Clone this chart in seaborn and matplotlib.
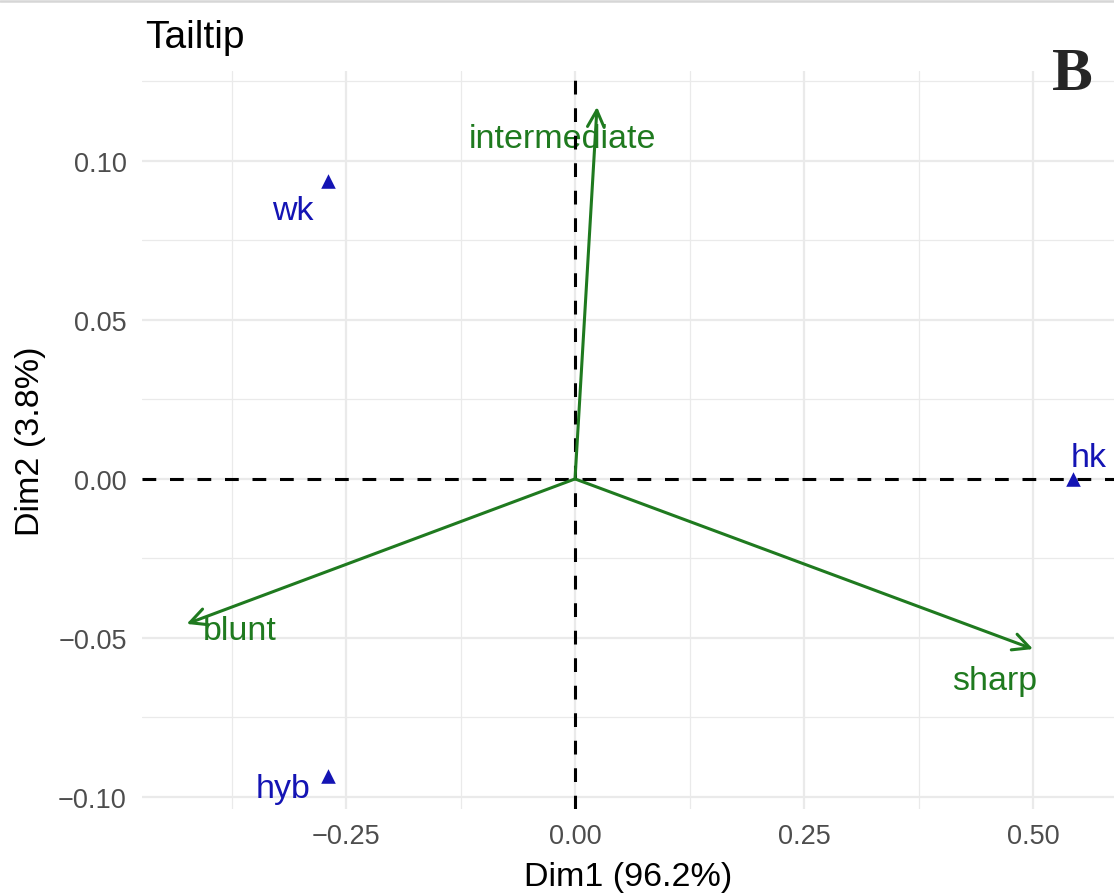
"""
Tailtip correspondence analysis biplot (panel B), redrawn with seaborn/matplotlib.
"""

import matplotlib
matplotlib.use("Agg")
import matplotlib.pyplot as plt
import matplotlib.ticker as mticker
from matplotlib.lines import Line2D
import seaborn as sns

# --- Data ---
row_names = ["wk", "hyb", "hk"]
row_dim1 = [-0.270, -0.270, 0.544]
row_dim2 = [0.0937, -0.0934, 0.0]

col_names = ["blunt", "intermediate", "sharp"]
col_dim1 = [-0.424, 0.024, 0.500]
col_dim2 = [-0.0456, 0.117, -0.0535]

x_ticks = [-0.25, 0.0, 0.25, 0.50]
y_ticks = [-0.10, -0.05, 0.0, 0.05, 0.10]

title = "Tailtip"
panel_tag = "B"
x_title = "Dim1 (96.2%)"
y_title = "Dim2 (3.8%)"

# --- Setup ---
sns.set_theme(style="white")
plt.rcParams.update({"font.family": ["Liberation Sans", "DejaVu Sans"],
                     "axes.unicode_minus": True})

BLUE = "#1414B4"
GREEN = "#1F7A1F"
GRID = "#EAEAEA"
TICK = "#4D4D4D"

# label nudges (pixels) as placed in the original (repelled labels)
row_offsets = {"wk": (-35, -38), "hyb": (-45, -21), "hk": (15, 13)}
col_offsets = {"blunt": (53, -15), "intermediate": (-35, -40), "sharp": (-38, -40)}

fig = plt.figure(figsize=(11.14, 8.95), dpi=100)
ax = fig.add_axes([0.1275, 0.095, 0.8725, 0.8246])
ax.set_xlim(-0.4727, 0.5884)
ax.set_ylim(-0.1038, 0.1283)

# grid like ggplot theme_minimal
ax.set_xticks(x_ticks)
ax.set_yticks(y_ticks)
ax.xaxis.set_minor_locator(mticker.AutoMinorLocator(2))
ax.yaxis.set_minor_locator(mticker.AutoMinorLocator(2))
ax.set_axisbelow(True)
ax.grid(which="major", color=GRID, linewidth=1.6)
ax.grid(which="minor", color=GRID, linewidth=0.9)
for s in ax.spines.values():
    s.set_visible(False)

fmt = mticker.FuncFormatter(lambda v, _: f"{v:.2f}".replace("-", "\u2212"))
ax.xaxis.set_major_formatter(fmt)
ax.yaxis.set_major_formatter(fmt)
ax.tick_params(which="major", length=6, width=1.2, color="#333333",
               labelsize=19.5, labelcolor=TICK, pad=4)
ax.tick_params(which="minor", length=0)
ax.tick_params(axis="y", pad=5)

# origin lines
ax.axhline(0, color="black", linewidth=2.2, linestyle=(0, (4.5, 4.5)), zorder=3)
ax.axvline(0, color="black", linewidth=2.2, linestyle=(0, (4.5, 4.5)), zorder=3)

# column arrows
for name, x, y in zip(col_names, col_dim1, col_dim2):
    ax.annotate("", xy=(x, y), xytext=(0, 0),
                arrowprops=dict(arrowstyle="->,head_length=0.6,head_width=0.3",
                                color=GREEN, lw=2.2, shrinkA=0, shrinkB=0,
                                mutation_scale=20),
                zorder=4)
    dx, dy = col_offsets[name]
    ax.annotate(name, xy=(x, y), xytext=(dx, dy), textcoords="offset pixels",
                ha="center", va="baseline", fontsize=24.5, color=GREEN, zorder=2)

# row points
sns.scatterplot(x=row_dim1, y=row_dim2, marker="^", s=110, color=BLUE,
                edgecolor=BLUE, linewidth=0, ax=ax, zorder=5, legend=False)
for name, x, y in zip(row_names, row_dim1, row_dim2):
    dx, dy = row_offsets[name]
    ax.annotate(name, xy=(x, y), xytext=(dx, dy), textcoords="offset pixels",
                ha="center", va="baseline", fontsize=24.5, color=BLUE, zorder=2)

# axis titles
ax.set_xlabel(x_title, fontsize=24.5, color="black")
ax.set_ylabel(y_title, fontsize=24.5, color="black")
ax.xaxis.set_label_coords(0.5, -0.0705)
ax.yaxis.set_label_coords(-0.0988, 0.5)

# plot title and panel tag
fig.text(145 / 1114, 1 - 48 / 895, title, fontsize=28, color="black",
         ha="left", va="baseline")
fig.text(1072 / 1114, 1 - 90 / 895, panel_tag, fontsize=44, fontweight="bold",
         family=["Liberation Serif", "DejaVu Serif"], ha="center", va="baseline")

# thin grey rule along the top edge of the image
fig.add_artist(Line2D([0, 1], [1 - 1.5 / 895, 1 - 1.5 / 895],
                      transform=fig.transFigure, color="#D6D6D6", linewidth=1.8))

fig.savefig("out.png", dpi=100, facecolor="white")
plt.close(fig)
